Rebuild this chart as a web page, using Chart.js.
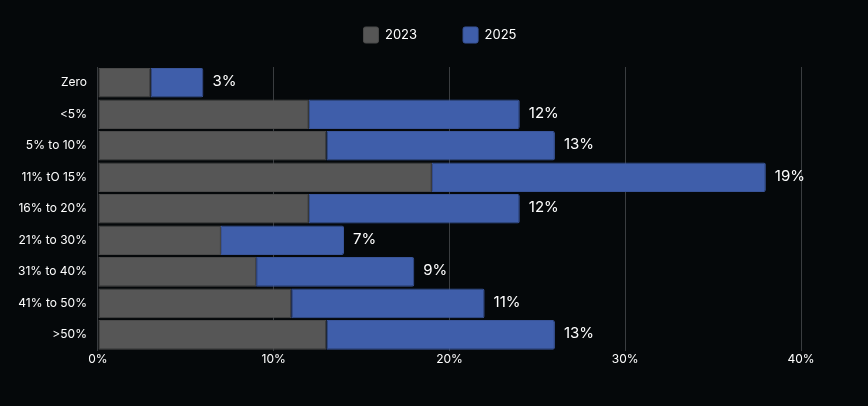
<!DOCTYPE html>
<html>
<head>
<meta charset="utf-8">
<script src="https://cdn.jsdelivr.net/npm/chart.js@4"></script>
<style>
  html, body { margin: 0; padding: 0; background: #05080a; }
  #wrap { width: 868px; height: 406px; }
</style>
</head>
<body>
<div id="wrap"><canvas id="chart"></canvas></div>
<script>
const categories = ['Zero', '<5%', '5% to 10%', '11% tO 15%', '16% to 20%', '21% to 30%', '31% to 40%', '41% to 50%', '>50%'];
const values2023 = [3, 12, 13, 19, 12, 7, 9, 11, 13];
const values2025 = [3, 12, 13, 19, 12, 7, 9, 11, 13];
const xTicks = [0, 10, 20, 30, 40];

const FONT = 'Inter, "Noto Sans", sans-serif';

// draws the 2025 value at the end of each stacked bar
const endLabels = {
    id: 'endLabels',
    afterDatasetsDraw(chart) {
        const ctx = chart.ctx;
        const meta = chart.getDatasetMeta(1);
        ctx.save();
        ctx.fillStyle = '#ffffff';
        ctx.font = '15px ' + FONT;
        ctx.textAlign = 'left';
        ctx.textBaseline = 'middle';
        meta.data.forEach((bar, i) => {
            ctx.fillText(values2025[i] + '%', bar.x + 9, bar.y - 1);
        });
        ctx.restore();
    }
};

// legend keeps wide item spacing but a shorter box, and sits a bit right of centre
const legendTweak = {
    id: 'legendTweak',
    beforeInit(chart) {
        const fit = chart.legend.fit;
        chart.legend.fit = function () {
            fit.bind(chart.legend)();
            this.height = 86;
        };
    },
    afterLayout(chart) {
        chart.legend.left += 32;
        chart.legend.right += 32;
    }
};

new Chart(document.getElementById('chart'), {
    type: 'bar',
    data: {
        labels: categories,
        datasets: [
            {
                label: '2023',
                data: values2023,
                backgroundColor: '#565656',
                borderColor: '#4a4a4a',
                borderWidth: 1,
                borderSkipped: false,
                barPercentage: 0.94,
                categoryPercentage: 1
            },
            {
                label: '2025',
                data: values2025,
                backgroundColor: '#3f5eaa',
                borderColor: '#3a559a',
                borderWidth: 1,
                borderRadius: { topRight: 2, bottomRight: 2 },
                borderSkipped: false,
                barPercentage: 0.94,
                categoryPercentage: 1
            }
        ]
    },
    options: {
        indexAxis: 'y',
        responsive: true,
        maintainAspectRatio: false,
        animation: false,
        layout: { padding: { top: -19, right: 67, bottom: 37, left: 15 } },
        plugins: {
            legend: {
                position: 'top',
                labels: {
                    color: '#ffffff',
                    font: { family: FONT, size: 13 },
                    boxWidth: 15,
                    boxHeight: 16,
                    padding: 46,
                    useBorderRadius: true,
                    borderRadius: 2
                }
            },
            tooltip: { enabled: false }
        },
        scales: {
            x: {
                stacked: true,
                min: 0,
                max: 40,
                afterBuildTicks: axis => { axis.ticks = xTicks.map(v => ({ value: v })); },
                ticks: {
                    color: '#ffffff',
                    font: { family: FONT, size: 12 },
                    padding: 2,
                    callback: v => v + '%'
                },
                grid: { color: '#3a3d40', lineWidth: 1, drawTicks: false },
                border: { display: false }
            },
            y: {
                stacked: true,
                ticks: {
                    color: '#ffffff',
                    font: { family: FONT, size: 12 },
                    padding: 3
                },
                grid: { display: false },
                border: { display: false }
            }
        }
    },
    plugins: [endLabels, legendTweak]
});
</script>
</body>
</html>
